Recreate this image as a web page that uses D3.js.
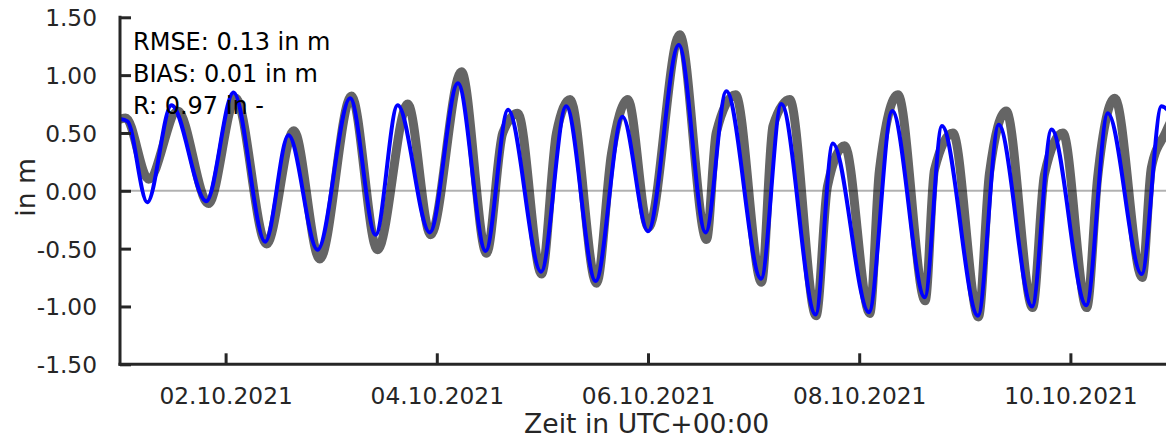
<!DOCTYPE html>
<html>
<head>
<meta charset="utf-8">
<script src="https://cdn.jsdelivr.net/npm/d3@7"></script>
<style>
  html, body { margin: 0; padding: 0; background: #fff; }
  svg { display: block; }
  text { font-family: "DejaVu Sans", sans-serif; }
</style>
</head>
<body>
<svg id="chart" width="1166" height="438"></svg>
<script>
// ---- data (hours since 01.10.2021 00:00 UTC, values in m) ----
const observedHours = [0, 1.3, 6.5, 13.1, 20.1, 26.3, 33.3, 39.5, 45.4, 52.6, 58.5, 65.4, 70.6, 77.6, 83.3,
  87.0, 90.4, 95.8, 99.2, 102.3, 108.3, 111.7, 115.4, 120.1, 127.2, 133.3, 135.5, 139.9, 145.8, 148.4, 152.2,
  158.2, 160.8, 164.7, 170.4, 172.6, 176.8, 183.0, 185.1, 189.3, 195.1, 197.6, 201.4, 207.4, 210.1, 214.3,
  219.7, 222.2, 226.1, 232.3, 234.4, 237.6, 240.8];
const observedValues = [0.62, 0.63, 0.10, 0.69, -0.11, 0.80, -0.46, 0.52, -0.59, 0.82, -0.51, 0.75, -0.38, 1.03, -0.54,
  0.50, 0.67, -0.72, 0.50, 0.79, -0.80, 0.32, 0.79, -0.32, 1.35, -0.42, 0.50, 0.83, -0.79, 0.56, 0.79,
  -1.08, 0.04, 0.39, -1.06, 0.18, 0.83, -0.95, 0.18, 0.50, -1.09, 0.15, 0.69, -1.01, 0.14, 0.50,
  -1.01, 0.12, 0.80, -0.75, 0.20, 0.50, 0.75];

const modelHours = [0, 1.7, 6.2, 11.7, 19.6, 25.8, 33.0, 38.3, 44.9, 52.3, 58.1, 63.1, 70.4, 76.8, 83.1,
  88.2, 95.7, 101.4, 108.1, 114.2, 120.0, 127.0, 133.1, 137.8, 145.7, 150.3, 158.1, 162.0, 170.2, 175.5,
  182.9, 186.8, 195.0, 199.7, 207.3, 211.7, 219.6, 224.5, 232.2, 236.7, 241.0];
const modelValues = [0.62, 0.60, -0.10, 0.74, -0.09, 0.85, -0.44, 0.48, -0.51, 0.80, -0.38, 0.74, -0.36, 0.93, -0.52,
  0.70, -0.70, 0.73, -0.78, 0.64, -0.35, 1.26, -0.36, 0.86, -0.76, 0.75, -1.07, 0.41, -1.05, 0.69,
  -0.92, 0.56, -1.08, 0.57, -1.00, 0.53, -0.99, 0.67, -0.72, 0.73, 0.50];

const startTime = Date.UTC(2021, 9, 1, 0, 0);
const endTime = Date.UTC(2021, 9, 11, 0, 0);
const xTickDates = [Date.UTC(2021, 9, 2), Date.UTC(2021, 9, 4), Date.UTC(2021, 9, 6), Date.UTC(2021, 9, 8), Date.UTC(2021, 9, 10)];
const xTickLabels = ["02.10.2021", "04.10.2021", "06.10.2021", "08.10.2021", "10.10.2021"];
const yTicks = [-1.5, -1.0, -0.5, 0.0, 0.5, 1.0, 1.5];
const statLines = ["RMSE: 0.13 in m", "BIAS: 0.01 in m", "R: 0.97 in -"];
const xLabel = "Zeit in UTC+00:00";
const yLabel = "in m";

// ---- layout ----
const svg = d3.select("#chart");
const plotLeft = 120, plotTop = 17.3, plotBottom = 364.3;
const plotRight = plotLeft + 10 * 105.6;
const tickFont = 23.3, labelFont = 26.6, statFont = 24;
const axisColor = "#262626";

const x = d3.scaleUtc().domain([startTime, endTime]).range([plotLeft, plotRight]);
const y = d3.scaleLinear().domain([-1.5, 1.5]).range([plotBottom, plotTop]);
const toTime = h => startTime + h * 3600 * 1000;

svg.append("defs").append("clipPath").attr("id", "plotclip")
  .append("rect").attr("x", plotLeft).attr("y", 0).attr("width", 1166 - plotLeft).attr("height", plotBottom);

const plot = svg.append("g").attr("clip-path", "url(#plotclip)");

const line = d3.line()
  .x(d => x(toTime(d[0])))
  .y(d => y(d[1]))
  .curve(d3.curveMonotoneX);

const obs = observedHours.map((h, i) => [h, observedValues[i]]);
const mod = modelHours.map((h, i) => [h, modelValues[i]]);

plot.append("path").datum(obs)
  .attr("d", line).attr("fill", "none")
  .attr("stroke", "#656565").attr("stroke-width", 9)
  .attr("stroke-linejoin", "round").attr("stroke-linecap", "round");

// zero line
plot.append("line")
  .attr("x1", plotLeft).attr("x2", 1166)
  .attr("y1", y(0)).attr("y2", y(0))
  .attr("stroke", "#000").attr("stroke-opacity", 0.3).attr("stroke-width", 2);

plot.append("path").datum(mod)
  .attr("d", line).attr("fill", "none")
  .attr("stroke", "#0000ff").attr("stroke-width", 4)
  .attr("stroke-linejoin", "round").attr("stroke-linecap", "round");

// ---- axes ----
const yAxis = d3.axisLeft(y).tickValues(yTicks).tickSizeInner(-11).tickSizeOuter(0).tickPadding(23)
  .tickFormat(d => d3.format(".2f")(d).replace("\u2212", "-"));
const gy = svg.append("g").attr("transform", `translate(${plotLeft},0)`).call(yAxis);
gy.select(".domain").attr("stroke", axisColor).attr("stroke-width", 3)
  .attr("d", `M0,${plotTop - 1.5}V${plotBottom + 1.5}`);
gy.selectAll(".tick line").attr("stroke", axisColor).attr("stroke-width", 3);
gy.selectAll(".tick text").attr("fill", axisColor).attr("font-size", tickFont)
  .attr("font-family", "DejaVu Sans").attr("dy", "0.36em");

const xAxis = d3.axisBottom(x).tickValues(xTickDates).tickSizeInner(-11).tickSizeOuter(0).tickPadding(23)
  .tickFormat((d, i) => xTickLabels[i]);
const gx = svg.append("g").attr("transform", `translate(0,${plotBottom})`).call(xAxis);
gx.select(".domain").attr("stroke", axisColor).attr("stroke-width", 3)
  .attr("d", `M${plotLeft - 1.5},0H1166`);
gx.selectAll(".tick line").attr("stroke", axisColor).attr("stroke-width", 3);
gx.selectAll(".tick text").attr("fill", axisColor).attr("font-size", tickFont)
  .attr("font-family", "DejaVu Sans");

// axis labels
svg.append("text")
  .attr("x", 646.7).attr("y", 433)
  .attr("text-anchor", "middle").attr("fill", axisColor)
  .attr("font-size", labelFont).text(xLabel);

svg.append("text")
  .attr("transform", `translate(35,187.4) rotate(-90)`)
  .attr("text-anchor", "middle").attr("fill", axisColor)
  .attr("font-size", labelFont).text(yLabel);

// statistics annotation
svg.append("g").selectAll("text").data(statLines).join("text")
  .attr("x", 133).attr("y", (d, i) => 49.5 + i * 32)
  .attr("fill", "#000").attr("font-size", statFont)
  .text(d => d);
</script>
</body>
</html>
